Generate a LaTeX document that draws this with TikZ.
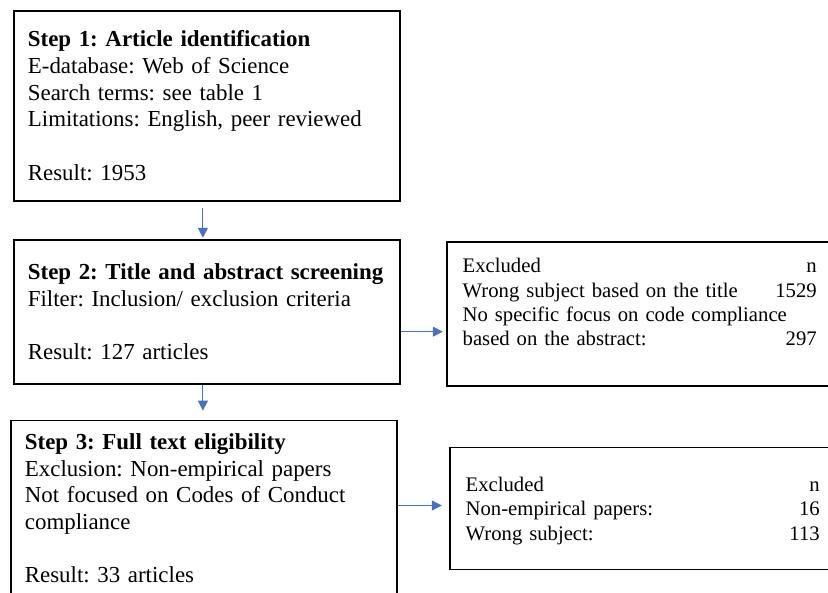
\documentclass[tikz,border=0pt]{standalone}
\usepackage{fontspec}
\setmainfont{Liberation Serif}
\usetikzlibrary{arrows.meta,positioning}
\definecolor{FlowBlue}{HTML}{4472C4}
\frenchspacing
\hyphenpenalty=10000
\newcommand{\exrow}[2]{\makebox[\hsize][s]{#1\hfill#2}}
\tikzset{
  stepbox/.style={
    draw, line width=1.8pt, align=left, text width=358pt,
    inner xsep=14pt, inner ysep=0pt, anchor=north west,
    font=\fontsize{22.9}{26.7}\selectfont
  },
  exclbox/.style={
    draw, line width=1.8pt, align=left, text width=354pt,
    inner xsep=16pt, inner ysep=0pt,
    font=\fontsize{20.7}{24.4}\selectfont
  },
  flow/.style={-{Triangle[length=10pt,width=10pt]}, line width=1pt, draw=FlowBlue}
}

\begin{document}
\begin{tikzpicture}[x=1pt,y=1pt]
    \useasboundingbox (0,0) rectangle (828,593);
    \node[stepbox,text height=36pt,text depth=154pt] (ident) at (13,583)
      {\textbf{Step 1: Article identification}\\
       E-database: Web of Science\\
       Search terms: see table 1\\
       Limitations: English, peer reviewed\\[26.7pt]
       Result: 1953};
    \node[stepbox,below=37pt of ident,text height=40pt,text depth=104pt] (screen)
      {\mbox{\textbf{Step 2: Title and abstract screening}}\\
       Filter: Inclusion/ exclusion criteria\\[26.7pt]
       Result: 127 articles};
    \node[stepbox,below=35pt of screen,xshift=-3pt,text height=29pt,text depth=200pt] (fulltext)
      {\textbf{Step 3: Full text eligibility}\\
       Exclusion: Non-empirical papers\\
       Not focused on Codes of Conduct\\
       compliance\\[26.7pt]
       Result: 33 articles};
    \node[exclbox,right=45pt of screen.north east,anchor=north west,yshift=-2pt,
      text height=31pt,text depth=113pt] (exclA)
      {\exrow{Excluded}{n}\\
       \exrow{Wrong subject based on the title}{1529}\\
       No specific focus on code compliance\\
       \exrow{based on the abstract:}{297}};
    \node[exclbox,right=51pt of fulltext.north east,anchor=north west,yshift=-27pt,
      text height=44pt,text depth=78pt] (exclB)
      {\exrow{Excluded}{n}\\
       \exrow{Non-empirical papers:}{16}\\
       \exrow{Wrong subject:}{113}};
    % connectors
    \draw[flow,shorten <=6pt,shorten >=1pt]
      ([xshift=-4pt]ident.south) -- ([xshift=-4pt]ident.south |- screen.north);
    \draw[flow,shorten >=9pt]
      ([xshift=-4pt]screen.south) -- ([xshift=-4pt]screen.south |- fulltext.north);
    \draw[flow,shorten >=3pt]
      ([yshift=-20pt]screen.east) -- ([yshift=-20pt]screen.east -| exclA.west);
    \coordinate (toB) at ([yshift=3pt]exclB.west);
    \draw[flow,shorten >=7pt] (fulltext.east |- toB) -- (toB);
\end{tikzpicture}
\end{document}
